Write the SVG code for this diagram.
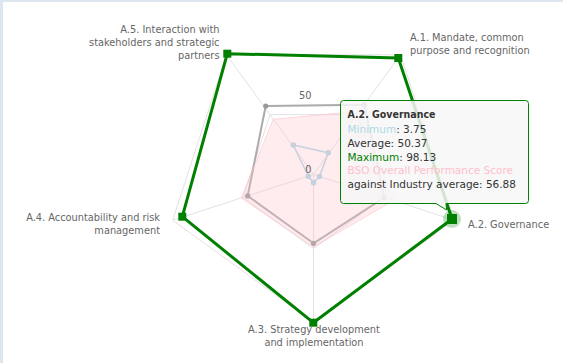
<svg xmlns="http://www.w3.org/2000/svg" width="563" height="363" viewBox="0 0 563 363">
<style>
.lbl{font-family:"DejaVu Sans",Verdana,sans-serif;font-size:9.8px;fill:#666666}
.tt{font-family:"DejaVu Sans",Verdana,sans-serif;font-size:10.5px;fill:#333333}
.grid{fill:none;stroke:#e2e2e2;stroke-width:1}
.max{fill:none;stroke:#008000;stroke-width:3;stroke-linejoin:round}
.mk{fill:#008000}
</style>
<rect x="0" y="0" width="563" height="363" fill="#dde6ef"/>
<rect x="3" y="2" width="560" height="361" fill="#ffffff"/>
<g id="grid">
<polygon class="grid" points="400.5,54.8 454.3,220.2 313.5,322.5 172.7,220.2 226.5,54.8"/>
<polygon class="grid" points="357,114.6 383.9,197.4 313.5,248.5 243.1,197.4 270,114.6"/>
<path class="grid" d="M313.5 174.5L400.5 54.8M313.5 174.5L454.3 220.2M313.5 174.5L313.5 322.5M313.5 174.5L172.7 220.2M313.5 174.5L226.5 54.8"/>
</g>
<g id="connectors">
<g id="series-minimum">
<polygon points="328.3,152.7 319.5,176.5 313.5,182.7 308.3,176.2 293.3,145" fill="none" stroke="#add8e6" stroke-width="1.5" stroke-linejoin="round"/>
<g fill="#add8e6">
<circle cx="328.3" cy="152.7" r="2.8"/><circle cx="319.5" cy="176.5" r="2.8"/><circle cx="313.5" cy="182.7" r="2.8"/><circle cx="308.3" cy="176.2" r="2.8"/><circle cx="293.3" cy="145" r="2.8"/>
</g>
</g>
<g id="series-average">
<polygon points="364.2,104.7 384.4,197.5 313.5,243.3 247.7,195.9 265.7,106" fill="none" stroke="#ababab" stroke-width="2" stroke-linejoin="round"/>
<g fill="#999999">
<circle cx="364.2" cy="104.7" r="2.6"/><circle cx="384.4" cy="197.5" r="2.6"/><circle cx="313.5" cy="243.3" r="2.6"/><circle cx="247.7" cy="195.9" r="2.6"/><circle cx="265.7" cy="106" r="2.6"/>
</g>
</g>
<g id="series-maximum">
<polygon class="max" points="398.3,58 452,219 313.3,322.7 182.3,216.7 227.3,53.7"/>
<circle cx="452" cy="219" r="9" fill="#008000" fill-opacity="0.25"/>
<rect class="mk" x="394.3" y="54" width="8" height="8"/>
<rect class="mk" x="447" y="214" width="10" height="10"/>
<rect class="mk" x="309.3" y="318.7" width="8" height="8"/>
<rect class="mk" x="178.3" y="212.7" width="8" height="8"/>
<rect class="mk" x="223.3" y="49.7" width="8" height="8"/>
</g>
<g id="series-bso">
<polygon points="359.5,111.2 393.6,200.5 313.5,247 241.2,198 273.3,119.3" fill="#ffc0cb" fill-opacity="0.3" stroke="#ffc0cb" stroke-opacity="0.6" stroke-width="1" stroke-linejoin="round"/>
</g>
</g>
<g id="axis-labels">
<text class="lbl" x="311.5" y="98.5" text-anchor="end">50</text>
<text class="lbl" x="311.5" y="172.5" text-anchor="end">0</text>
</g>
<g id="node-a1">
<text class="lbl" x="410" y="40.5">A.1. Mandate, common</text>
<text class="lbl" x="410" y="53.5">purpose and recognition</text>
</g>
<g id="node-a2">
<text class="lbl" x="468" y="227.5">A.2. Governance</text>
</g>
<g id="node-a3">
<text class="lbl" x="314" y="333" text-anchor="middle">A.3. Strategy development</text>
<text class="lbl" x="314" y="345.5" text-anchor="middle">and implementation</text>
</g>
<g id="node-a4">
<text class="lbl" x="160" y="220.5" text-anchor="end">A.4. Accountability and risk</text>
<text class="lbl" x="160" y="233.5" text-anchor="end">management</text>
</g>
<g id="node-a5">
<text class="lbl" x="219.5" y="32.5" text-anchor="end">A.5. Interaction with</text>
<text class="lbl" x="219.5" y="46" text-anchor="end">stakeholders and strategic</text>
<text class="lbl" x="219.5" y="59" text-anchor="end">partners</text>
</g>
<g id="tooltip">
<path d="M343.5 100.5H525.5Q528.5 100.5 528.5 103.5V200.5Q528.5 203.5 525.5 203.5H446L446.6 210L436 203.5H343.5Q340.5 203.5 340.5 200.5V103.5Q340.5 100.5 343.5 100.5Z" fill="#f7f7f7" fill-opacity="0.85" stroke="#008000" stroke-width="1"/>
<text class="tt" x="347.5" y="118.3" font-weight="bold" textLength="88" lengthAdjust="spacingAndGlyphs">A.2. Governance</text>
<text class="tt" x="347.5" y="132.5"><tspan fill="#add8e6">Minimum</tspan>: 3.75</text>
<text class="tt" x="347.5" y="146.5">Average: 50.37</text>
<text class="tt" x="347.5" y="160.5"><tspan fill="#008000">Maximum</tspan>: 98.13</text>
<text class="tt" x="347.5" y="174.3" fill="#ffc0cb" style="fill:#ffc0cb">BSO Overall Performance Score</text>
<text class="tt" x="347.5" y="188.3">against Industry average: 56.88</text>
</g>
</svg>
